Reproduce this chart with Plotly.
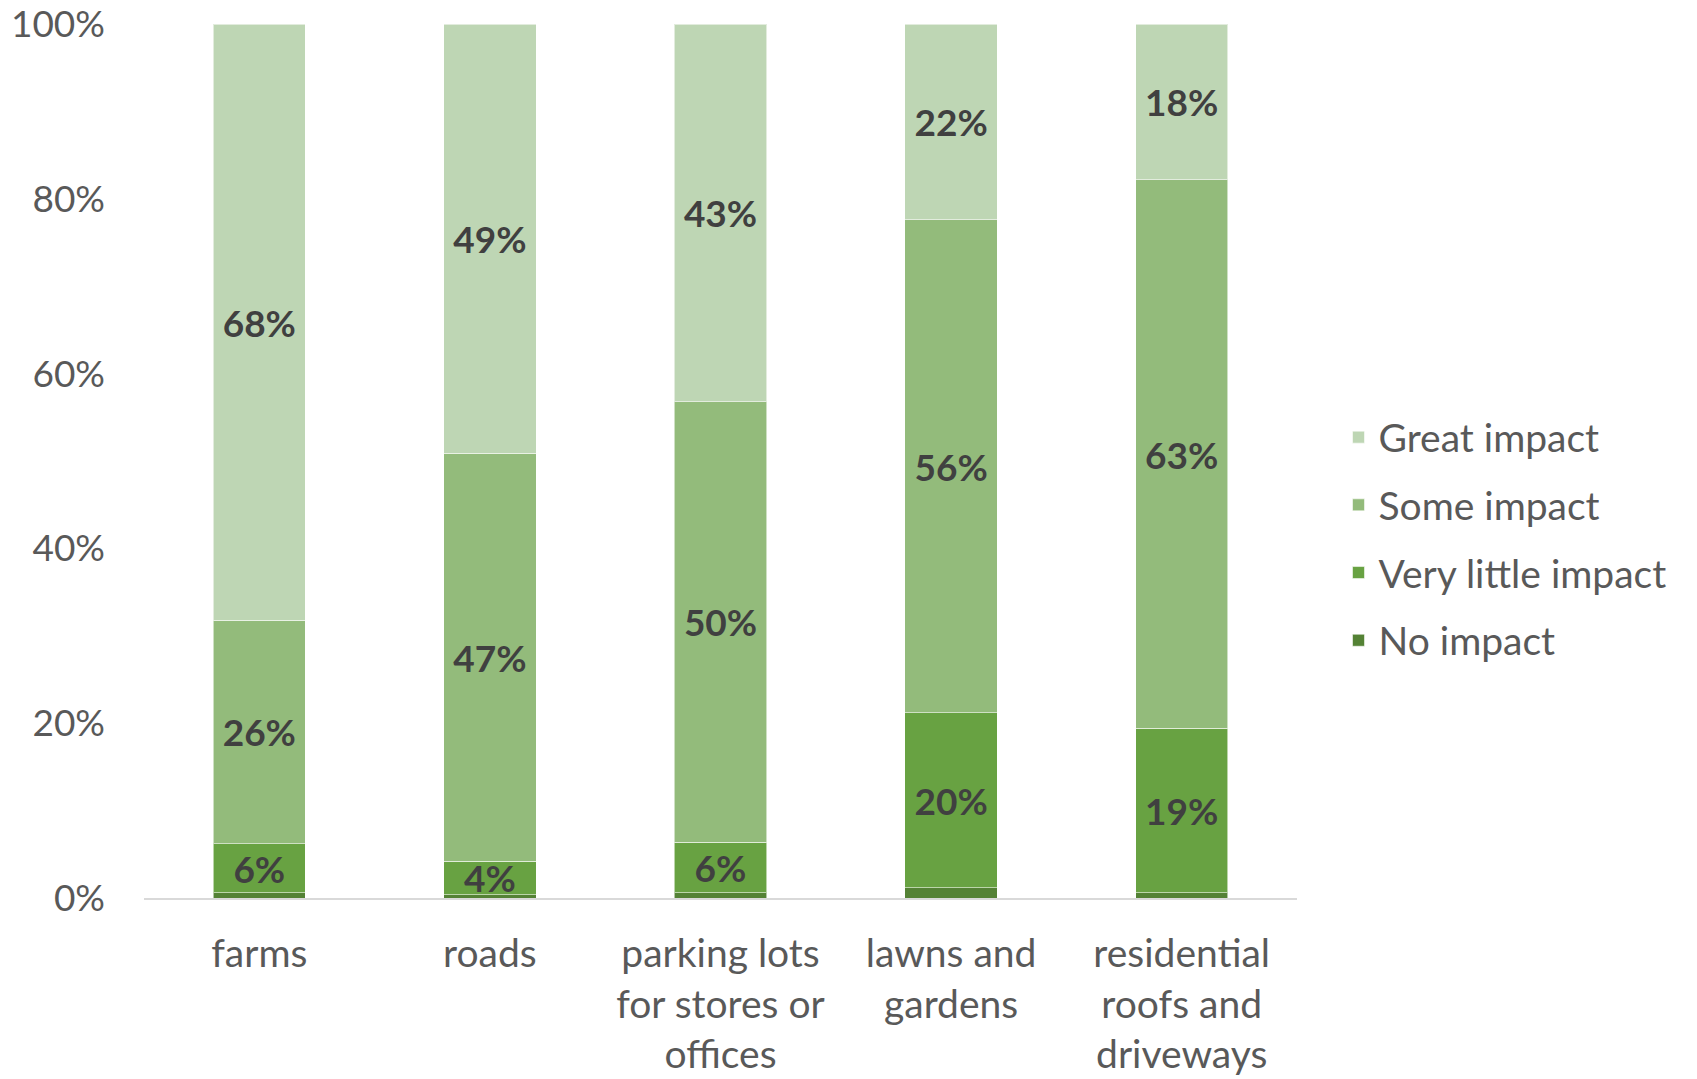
import plotly.graph_objects as go

# Survey: perceived impact of runoff sources (percent of respondents)
categories = [
    "farms",
    "roads",
    "parking lots<br>for stores or<br>offices",
    "lawns and<br>gardens",
    "residential<br>roofs and<br>driveways",
]
no_impact = [0.6, 0.4, 0.6, 1.2, 0.6]
very_little_impact = [5.6, 3.8, 5.8, 20.0, 18.8]
some_impact = [25.6, 46.7, 50.4, 56.4, 62.8]
great_impact = [68.2, 49.1, 43.2, 22.4, 17.8]

y_ticks = [0, 20, 40, 60, 80, 100]

# name, values, colour, show value labels, legend rank (top to bottom)
series = [
    ("No impact", no_impact, "#548235", False, 4),
    ("Very little impact", very_little_impact, "#68A242", True, 3),
    ("Some impact", some_impact, "#93BB7B", True, 2),
    ("Great impact", great_impact, "#BED6B4", True, 1),
]

FONT = "Lato"
TICK_COLOR = "#595959"
LABEL_COLOR = "#404040"

fig = go.Figure()
for name, vals, color, labelled, rank in series:
    fig.add_trace(
        go.Bar(
            x=categories,
            y=vals,
            name=name,
            legendgroup=name,
            legendrank=rank,
            marker=dict(color=color, line=dict(color="rgba(255,255,255,0.55)", width=1)),
            width=0.4,
            text=[f"{v:.0f}%" for v in vals] if labelled else None,
            textposition="inside" if labelled else "none",
            insidetextanchor="middle",
            textangle=0,
            textfont=dict(family=FONT, size=37, color=LABEL_COLOR, weight="bold"),
            hoverinfo="skip",
        )
    )

fig.update_layout(
    barmode="stack",
    width=1697,
    height=1079,
    margin=dict(l=144, r=400, t=24, b=181),
    paper_bgcolor="white",
    plot_bgcolor="white",
    font=dict(family=FONT, size=37, color=TICK_COLOR),
    uniformtext=dict(minsize=37, mode="show"),
    legend=dict(
        x=1.036,
        xanchor="left",
        y=0.411,
        yanchor="middle",
        traceorder="grouped",
        tracegroupgap=14,
        font=dict(family=FONT, size=39, color=TICK_COLOR),
        bgcolor="rgba(0,0,0,0)",
    ),
    xaxis=dict(
        showline=True,
        linecolor="#D9D9D9",
        linewidth=2,
        ticks="",
        showgrid=False,
        automargin=False,
        ticklabeloverflow="allow",
        tickfont=dict(family=FONT, size=39, color=TICK_COLOR),
        ticklabelstandoff=20,
    ),
    yaxis=dict(
        range=[0, 100],
        tickvals=y_ticks,
        ticktext=[f"{t}%" for t in y_ticks],
        showgrid=False,
        zeroline=False,
        showline=False,
        ticks="",
        automargin=False,
        ticklabeloverflow="allow",
        tickfont=dict(family=FONT, size=37, color=TICK_COLOR),
        ticklabelstandoff=38,
    ),
)

fig.write_html("out.html")
